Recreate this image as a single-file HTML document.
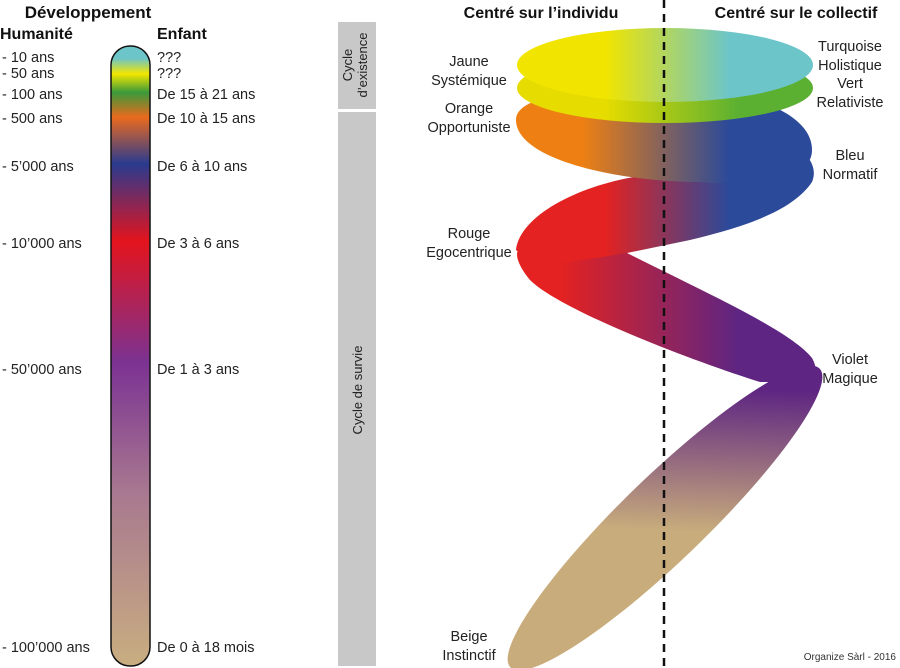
<!DOCTYPE html>
<html><head><meta charset="utf-8"><style>
body{margin:0;background:#fff;}
svg{display:block;font-family:"Liberation Sans","DejaVu Sans",sans-serif;}
</style></head><body>
<svg width="900" height="668" viewBox="0 0 900 668">
<defs>
<linearGradient id="bar" x1="0" y1="46" x2="0" y2="666" gradientUnits="userSpaceOnUse">
<stop offset="0" stop-color="#6cc5c9"/><stop offset="0.02" stop-color="#6cc5c9"/>
<stop offset="0.045" stop-color="#f3e600"/><stop offset="0.075" stop-color="#3a9a3a"/>
<stop offset="0.115" stop-color="#ea6a1e"/><stop offset="0.19" stop-color="#2a3b8f"/>
<stop offset="0.315" stop-color="#e3141d"/><stop offset="0.51" stop-color="#7b3292"/>
<stop offset="0.72" stop-color="#a87890"/><stop offset="1" stop-color="#c9ae80"/>
</linearGradient>
<linearGradient id="g1" x1="517" y1="0" x2="812" y2="0" gradientUnits="userSpaceOnUse">
<stop offset="0.3" stop-color="#f1e500"/><stop offset="0.72" stop-color="#6cc5c9"/></linearGradient>
<linearGradient id="g2" x1="517" y1="0" x2="812" y2="0" gradientUnits="userSpaceOnUse">
<stop offset="0.3" stop-color="#e6dc00"/><stop offset="0.75" stop-color="#5bb032"/></linearGradient>
<linearGradient id="g3" x1="517" y1="0" x2="812" y2="0" gradientUnits="userSpaceOnUse">
<stop offset="0.22" stop-color="#ee8013"/><stop offset="0.72" stop-color="#2b4a9a"/></linearGradient>
<linearGradient id="g4" x1="517" y1="0" x2="812" y2="0" gradientUnits="userSpaceOnUse">
<stop offset="0.3" stop-color="#e32221"/><stop offset="0.72" stop-color="#2b4a9a"/></linearGradient>
<linearGradient id="g5" x1="517" y1="0" x2="812" y2="0" gradientUnits="userSpaceOnUse">
<stop offset="0.15" stop-color="#e32221"/><stop offset="0.75" stop-color="#5e2582"/></linearGradient>
<linearGradient id="g6" x1="540" y1="640" x2="800" y2="390" gradientUnits="userSpaceOnUse">
<stop offset="0.45" stop-color="#c8ac7c"/><stop offset="0.85" stop-color="#5e2582"/></linearGradient>
</defs>

<text x="88" y="18" font-size="17" font-weight="bold" text-anchor="middle" fill="#111">Développement</text>
<text x="0" y="39" font-size="16" font-weight="bold" fill="#111">Humanité</text>
<text x="157" y="39" font-size="16" font-weight="bold" fill="#111">Enfant</text>
<g font-size="14.5" fill="#222">
<text x="2" y="62">- 10 ans</text><text x="2" y="78">- 50 ans</text>
<text x="2" y="99">- 100 ans</text><text x="2" y="123">- 500 ans</text>
<text x="2" y="171">- 5’000 ans</text><text x="2" y="248">- 10’000 ans</text>
<text x="2" y="374">- 50’000 ans</text><text x="2" y="652">- 100’000 ans</text>
<text x="157" y="62">???</text><text x="157" y="78">???</text>
<text x="157" y="99">De 15 à 21 ans</text><text x="157" y="123">De 10 à 15 ans</text>
<text x="157" y="171">De 6 à 10 ans</text><text x="157" y="248">De 3 à 6 ans</text>
<text x="157" y="374">De 1 à 3 ans</text><text x="157" y="652">De 0 à 18 mois</text>
</g>
<rect x="111" y="46" width="39" height="620" rx="19" fill="url(#bar)" stroke="#111" stroke-width="1.5"/>

<rect x="338" y="22" width="38" height="87" fill="#c8c8c8"/>
<rect x="338" y="112" width="38" height="554" fill="#c8c8c8"/>
<g font-size="13" fill="#222" text-anchor="middle">
<text transform="translate(352,65) rotate(-90)">Cycle</text>
<text transform="translate(367,65) rotate(-90)">d’existence</text>
<text transform="translate(362,390) rotate(-90)">Cycle de survie</text>
</g>

<text x="541" y="18" font-size="16" font-weight="bold" text-anchor="middle" fill="#111">Centré sur l’individu</text>
<text x="796" y="18" font-size="16" font-weight="bold" text-anchor="middle" fill="#111">Centré sur le collectif</text>

<ellipse cx="665" cy="518" rx="215" ry="42" transform="rotate(-44 665 518)" fill="url(#g6)"/>
<path d="M627,253 C700,290 790,330 812,358 C820,372 815,385 795,382 L760,382 C690,360 560,310 530,280 C515,262 515,250 520,250 Z" fill="url(#g5)"/>
<path d="M516,250 C520,215 580,185 640,176 L780,140 C810,150 818,168 812,182 C790,215 730,230 690,240 L627,253 C590,258 540,272 516,250 Z" fill="url(#g4)"/>
<path d="M516,120 C516,92 600,88 665,88 C740,88 812,110 812,150 C812,185 740,185 700,182 C620,182 516,160 516,120 Z" fill="url(#g3)"/>
<ellipse cx="665" cy="88" rx="148" ry="35" fill="url(#g2)"/>
<ellipse cx="665" cy="65" rx="148" ry="37" fill="url(#g1)"/>

<line x1="664" y1="0" x2="664" y2="668" stroke="#111" stroke-width="2.5" stroke-dasharray="8,6"/>

<g font-size="14.5" fill="#222" text-anchor="middle">
<text x="469" y="66">Jaune</text><text x="469" y="85">Systémique</text>
<text x="469" y="113">Orange</text><text x="469" y="132">Opportuniste</text>
<text x="469" y="238">Rouge</text><text x="469" y="257">Egocentrique</text>
<text x="469" y="641">Beige</text><text x="469" y="660">Instinctif</text>
<text x="850" y="51">Turquoise</text><text x="850" y="70">Holistique</text>
<text x="850" y="88">Vert</text><text x="850" y="107">Relativiste</text>
<text x="850" y="160">Bleu</text><text x="850" y="179">Normatif</text>
<text x="850" y="364">Violet</text><text x="850" y="383">Magique</text>
</g>
<text x="896" y="660" font-size="10" fill="#333" text-anchor="end">Organize Sàrl - 2016</text>
</svg>
</body></html>
